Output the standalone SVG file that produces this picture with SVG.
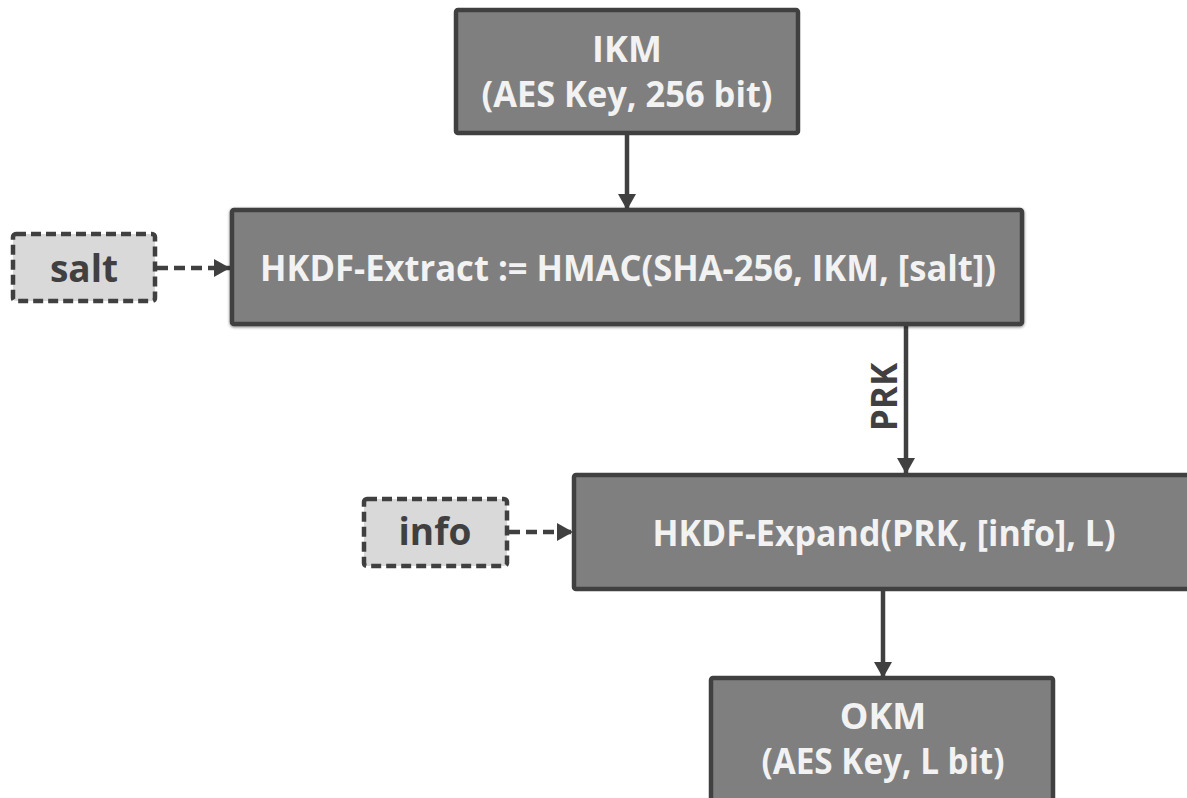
<svg xmlns="http://www.w3.org/2000/svg" width="1187" height="798" viewBox="0 0 1187 798">
<style>
.box{fill:#7f7f7f;stroke:#404040;stroke-width:4.5}
.dbox{fill:#d9d9d9;stroke:#404040;stroke-width:4.5;stroke-dasharray:10 5}
.t{font-family:"Open Sans","Liberation Sans",sans-serif;font-weight:bold;font-size:36px;fill:#f2f2f2;text-anchor:middle}
.dt{font-family:"Open Sans","Liberation Sans",sans-serif;font-weight:bold;font-size:37px;fill:#404040;text-anchor:middle}
.c{stroke:#404040;stroke-width:4.5;fill:none}
.dc{stroke:#404040;stroke-width:4.5;fill:none;stroke-dasharray:11 6}
</style>
<defs>
<marker id="ah" markerUnits="userSpaceOnUse" markerWidth="20" markerHeight="20" refX="16" refY="9" orient="auto">
<path d="M0,0 L16,9 L0,18 Z" fill="#404040"/>
</marker>
<filter id="sh" x="-5%" y="-10%" width="110%" height="130%">
<feGaussianBlur in="SourceAlpha" stdDeviation="1.5"/>
<feOffset dx="0" dy="1" result="b"/>
<feFlood flood-color="#000" flood-opacity="0.5"/>
<feComposite in2="b" operator="in"/>
<feMerge><feMergeNode/><feMergeNode in="SourceGraphic"/></feMerge>
</filter>
</defs>
<g id="connectors">
<line class="c" x1="627" y1="133" x2="627" y2="210" marker-end="url(#ah)"/>
<line class="dc" x1="157" y1="268" x2="230" y2="268" marker-end="url(#ah)"/>
<line class="c" x1="906" y1="325" x2="906" y2="474" marker-end="url(#ah)"/>
<text class="dt" transform="translate(897,397) rotate(-90)" style="font-size:35px">PRK</text>
<line class="dc" x1="509" y1="532" x2="573" y2="532" marker-end="url(#ah)"/>
<line class="c" x1="883" y1="589" x2="883" y2="678" marker-end="url(#ah)"/>
</g>
<g id="ikm">
<rect class="box" x="456" y="10" width="342" height="123" rx="2"/>
<text class="t" x="627" y="62">IKM</text>
<text class="t" x="627" y="107" textLength="291" lengthAdjust="spacingAndGlyphs">(AES Key, 256 bit)</text>
</g>
<g id="salt">
<rect class="dbox" x="13" y="234" width="142" height="67" rx="3"/>
<text class="dt" x="84" y="282">salt</text>
</g>
<g id="extract">
<rect class="box" x="232" y="210" width="790" height="114" rx="2" filter="url(#sh)"/>
<text class="t" x="628" y="281" textLength="736" lengthAdjust="spacingAndGlyphs">HKDF-Extract := HMAC(SHA-256, IKM, [salt])</text>
</g>
<g id="info">
<rect class="dbox" x="364" y="499" width="143" height="67" rx="3"/>
<text class="dt" x="435" y="545">info</text>
</g>
<g id="expand">
<rect class="box" x="574" y="475" width="625" height="114" rx="2"/>
<text class="t" x="884" y="546" textLength="463" lengthAdjust="spacingAndGlyphs">HKDF-Expand(PRK, [info], L)</text>
</g>
<g id="okm">
<rect class="box" x="711" y="678" width="342" height="140" rx="2"/>
<text class="t" x="883" y="729">OKM</text>
<text class="t" x="883" y="774" textLength="243" lengthAdjust="spacingAndGlyphs">(AES Key, L bit)</text>
</g>
</svg>
